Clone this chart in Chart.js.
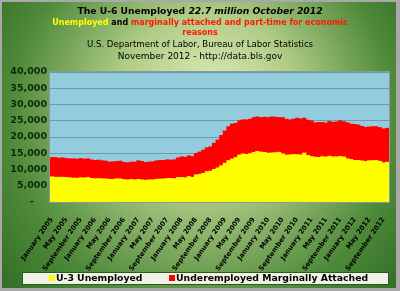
<!DOCTYPE html>
<html>
<head>
<meta charset="utf-8">
<script src="https://cdn.jsdelivr.net/npm/chart.js@4/dist/chart.umd.min.js"></script>
<style>
  html, body { margin: 0; padding: 0; background: #a8a8a8; }
  #wrap { width: 400px; height: 291px; position: relative; }
</style>
</head>
<body>
<div id="wrap"><canvas id="chart" width="400" height="291"></canvas></div>
<script>
// monthly, January 2005 .. October 2012 (thousands)
const years = [2005, 2006, 2007, 2008, 2009, 2010, 2011, 2012];
const monthNames = ['January', 'February', 'March', 'April', 'May', 'June', 'July',
  'August', 'September', 'October', 'November', 'December'];

const u3Unemployed = [
  7760, 7640, 7620, 7660, 7560, 7470, 7370, 7340, 7490, 7430, 7560, 7290,
  7180, 7230, 7170, 7120, 7000, 6990, 7150, 7110, 6900, 6820, 6960, 6860,
  6970, 6830, 6730, 6840, 6830, 7000, 7080, 7110, 7240, 7280, 7190, 7580,
  7560, 7460, 7830, 7620, 8400, 8530, 8830, 9380, 9500, 10040, 10520, 11180,
  11960, 12770, 13250, 13690, 14490, 14800, 14670, 14890, 15280, 15570, 15390, 15270,
  15050, 15110, 15200, 15330, 14850, 14470, 14510, 14650, 14580, 14520, 15080, 14350,
  14010, 13820, 13740, 13960, 13860, 14100, 13920, 13920, 14030, 13900, 13300, 13090,
  12810, 12830, 12670, 12500, 12720, 12750, 12790, 12540, 12090, 12260
];

const underemployedMarginal = [
  5940, 6060, 5880, 5940, 5840, 5830, 5930, 5860, 5910, 5780, 5740, 5710,
  5620, 5670, 5540, 5480, 5300, 5410, 5350, 5490, 5300, 5280, 5340, 5440,
  5730, 5670, 5470, 5460, 5570, 5700, 5720, 5700, 5770, 5620, 5820, 6020,
  6340, 6340, 6380, 6390, 6600, 6870, 7170, 7320, 7500, 8060, 8580, 9320,
  9940, 10430, 10750, 10510, 10510, 10500, 10630, 10610, 10720, 10630, 10610, 10830,
  10950, 11090, 10900, 10680, 11150, 11030, 10790, 10850, 11220, 11080, 10720, 10850,
  10990, 10580, 10760, 10540, 10450, 10700, 10580, 10780, 10970, 10800, 11100, 10910,
  11090, 10870, 10630, 10500, 10380, 10450, 10410, 10360, 10410, 10440
];

const yTicks = [0, 5000, 10000, 15000, 20000, 25000, 30000, 35000, 40000];

const months = [];
years.forEach(y => monthNames.forEach(m => months.push(m + ' ' + y)));
months.length = u3Unemployed.length;

const FONT = '"DejaVu Sans", Verdana, sans-serif';

const backdrop = {
  id: 'backdrop',
  beforeDraw(chart) {
    const { ctx, chartArea: a } = chart;
    ctx.save();
    ctx.fillStyle = '#a9a9a9';
    ctx.fillRect(0, 0, 400, 291);
    const g = ctx.createRadialGradient(210, 90, 10, 200, 130, 270);
    g.addColorStop(0, '#d6e6b0');
    g.addColorStop(0.3, '#b1cd88');
    g.addColorStop(0.7, '#4f8a3a');
    g.addColorStop(1, '#2a6820');
    ctx.fillStyle = g;
    ctx.fillRect(2, 2, 394, 286);
    ctx.fillStyle = '#93cddd';
    ctx.fillRect(a.left, a.top, a.right - a.left, a.bottom - a.top);
    ctx.restore();
  },
  afterDatasetsDraw(chart) {
    const { ctx, chartArea: a } = chart;
    ctx.save();
    ctx.strokeStyle = '#8a9a9a';
    ctx.lineWidth = 1;
    ctx.strokeRect(a.left - 0.5, a.top - 0.5, a.right - a.left + 1, a.bottom - a.top + 1);
    ctx.restore();
  },
  afterDraw(chart) {
    const { ctx } = chart;
    ctx.save();
    ctx.textBaseline = 'middle';
    const runs = (y, parts) => {
      let w = 0;
      parts.forEach(p => { ctx.font = p.font; w += ctx.measureText(p.text).width; });
      let x = 200 - w / 2;
      ctx.textAlign = 'left';
      parts.forEach(p => {
        ctx.font = p.font;
        ctx.fillStyle = p.color;
        ctx.fillText(p.text, x, y);
        x += ctx.measureText(p.text).width;
      });
    };
    runs(12, [
      { text: 'The U-6 Unemployed ', font: 'bold 9.2px ' + FONT, color: '#000' },
      { text: '22.7 million October 2012', font: 'italic bold 9.2px ' + FONT, color: '#000' }
    ]);
    runs(23, [
      { text: 'Unemployed', font: 'bold 8px ' + FONT, color: '#ffff00' },
      { text: ' and ', font: 'bold 8px ' + FONT, color: '#000' },
      { text: 'marginally attached and part-time for economic', font: 'bold 8px ' + FONT, color: '#ff1a00' }
    ]);
    runs(33, [{ text: 'reasons', font: 'bold 8px ' + FONT, color: '#ff1a00' }]);
    runs(45, [{ text: 'U.S. Department of Labor, Bureau of Labor Statistics', font: '8.6px ' + FONT, color: '#000' }]);
    runs(57, [{ text: 'November 2012 - http://data.bls.gov', font: '9px ' + FONT, color: '#000' }]);

    // legend box
    ctx.fillStyle = '#f1f2e6';
    ctx.fillRect(22, 272, 367, 13);
    ctx.strokeStyle = '#2a5a20';
    ctx.lineWidth = 1;
    ctx.strokeRect(22.5, 272.5, 366, 12);
    const items = [
      { x: 49, color: '#ffff00', text: chart.data.datasets[0].label },
      { x: 169, color: '#ff0000', text: chart.data.datasets[1].label }
    ];
    ctx.font = 'bold 9.3px ' + FONT;
    ctx.textAlign = 'left';
    items.forEach(it => {
      ctx.fillStyle = it.color;
      ctx.fillRect(it.x, 275, 6, 6);
      ctx.fillStyle = '#000';
      ctx.fillText(it.text, it.x + 7, 279);
    });
    ctx.restore();
  }
};

new Chart(document.getElementById('chart'), {
  type: 'bar',
  data: {
    labels: months,
    datasets: [
      { label: 'U-3 Unemployed', data: u3Unemployed, backgroundColor: '#ffff00' },
      { label: 'Underemployed Marginally Attached', data: underemployedMarginal, backgroundColor: '#ff0000' }
    ]
  },
  options: {
    responsive: false,
    animation: false,
    layout: { padding: { top: 72, left: 0, right: 11, bottom: 0 } },
    datasets: { bar: { barPercentage: 1, categoryPercentage: 1, borderWidth: 0 } },
    plugins: { legend: { display: false }, tooltip: { enabled: false } },
    scales: {
      x: {
        stacked: true,
        grid: { display: false },
        border: { display: false },
        afterFit: s => { s.height = 89; },
        ticks: {
          autoSkip: false,
          minRotation: 55,
          maxRotation: 55,
          padding: 6,
          color: '#000',
          font: { family: FONT, size: 6.8, weight: 'bold' },
          callback: (v, i) => (i % 4 === 0 ? months[i] : '')
        }
      },
      y: {
        stacked: true,
        min: 0,
        max: 40000,
        afterFit: s => { s.width = 50; },
        afterBuildTicks: s => { s.ticks = yTicks.map(v => ({ value: v })); },
        grid: { color: '#6f9aa8', drawTicks: false, lineWidth: 1 },
        border: { display: false },
        ticks: {
          padding: 3,
          color: '#0b2a0b',
          font: { family: FONT, size: 9.5, weight: 'bold' },
          callback: v => (v === 0 ? '-    ' : v.toLocaleString('en-US'))
        }
      }
    }
  },
  plugins: [backdrop]
});
</script>
</body>
</html>
